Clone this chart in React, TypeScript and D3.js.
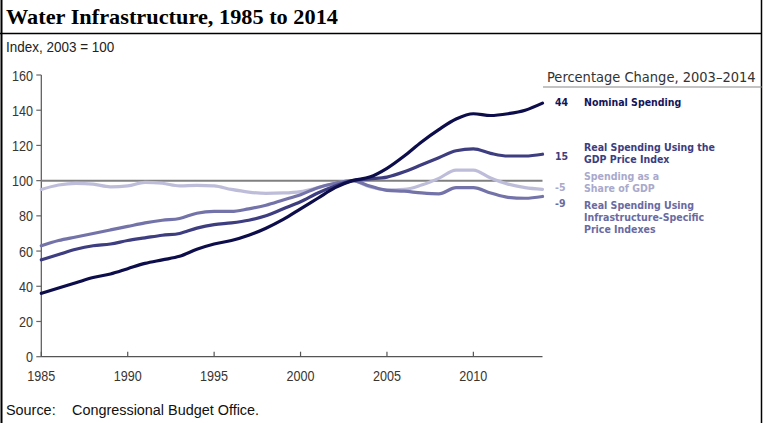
import * as d3 from 'd3'

const YEARS = d3.range(1985, 2015)

const NOMINAL = [36, 39, 42, 45, 47, 50, 53, 55, 57, 61, 64, 66, 69, 73, 78, 84, 90, 96, 100, 102, 107, 114, 122, 129, 135, 138, 137, 138, 140, 144]
const REAL_GDP = [55, 58, 61, 63, 64, 66, 67.5, 69, 70, 73, 75, 76, 77.5, 80, 84, 88, 93, 97, 100, 101, 102, 105, 109, 113, 117, 118, 115.5, 114, 114, 115]
const SHARE_GDP = [95, 97.5, 98.5, 98, 96.5, 97, 99, 98.5, 97, 97.3, 97, 95, 93.5, 92.8, 93, 93.8, 96, 98.5, 100, 96.5, 94.7, 95, 97.5, 101.3, 106, 106, 101.5, 98, 96, 95]
const REAL_INFRA = [63, 66, 68, 70, 72, 74, 76, 77.5, 78.5, 81.5, 82.5, 82.5, 84, 86, 89, 92, 96, 98.5, 100, 97, 94.5, 94, 93, 92.5, 96, 96, 93, 90.5, 90, 91]

const Y_TICKS = [0, 20, 40, 60, 80, 100, 120, 140, 160]
const X_TICKS = [1985, 1990, 1995, 2000, 2005, 2010]

// drawing order: lightest at the back
const SERIES = [
  { key: 'share', values: SHARE_GDP, color: '#bdbdda' },
  { key: 'infra', values: REAL_INFRA, color: '#7373a9' },
  { key: 'gdp', values: REAL_GDP, color: '#3d3d80' },
  { key: 'nominal', values: NOMINAL, color: '#0d0d4b' },
]

const LABELS = [
  { change: '44', changeY: 106, lines: ['Nominal Spending'], lineY: 106, color: '#14145a' },
  { change: '15', changeY: 160, lines: ['Real Spending Using the', 'GDP Price Index'], lineY: 151, color: '#3d3d80' },
  { change: '-5', changeY: 191, lines: ['Spending as a', 'Share of GDP'], lineY: 180, color: '#a9a9cc' },
  { change: '-9', changeY: 207, lines: ['Real Spending Using', 'Infrastructure-Specific', 'Price Indexes'], lineY: 209, color: '#6a6aa2' },
]

const SANS = '"Liberation Sans", Arial, sans-serif'
const TAHOMA = '"DejaVu Sans Condensed", "DejaVu Sans", sans-serif'

if (typeof document !== 'undefined') document.body.style.margin = '0'

// condensed text: no narrow face is installed, so squeeze horizontally
function Narrow({ x, y, anchor = 'start', size = 15, squeeze = 0.84, fill = '#3a3530', children }: {
  x: number, y: number, anchor?: string, size?: number, squeeze?: number, fill?: string, children: any
}) {
  return (
    <text transform={`translate(${x},${y}) scale(${squeeze},1)`} textAnchor={anchor}
      fontFamily={SANS} fontSize={size} fill={fill}>{children}</text>
  )
}

export default function App() {
  const width = 764
  const height = 423

  const x = d3.scaleLinear().domain([1985, 2014]).range([41.3, 542.5])
  const y = d3.scaleLinear().domain([0, 160]).range([356.7, 75])

  const line = d3.line<number>()
    .x((_, i) => x(YEARS[i]))
    .y(d => y(d))
    .curve(d3.curveMonotoneX)

  return (
    <svg width={width} height={height} style={{ display: 'block', background: '#fff' }}>
      {/* frame */}
      <line x1={1.5} x2={1.5} y1={0} y2={height} stroke="#000" strokeWidth={2} />
      <line x1={761.5} x2={761.5} y1={0} y2={height} stroke="#000" strokeWidth={1.5} />
      <line x1={0} x2={762} y1={33.5} y2={33.5} stroke="#000" strokeWidth={1.5} />

      <text x={6} y={24} fontFamily='"Liberation Serif", serif' fontWeight="bold" fontSize={22}
        textLength={332} lengthAdjust="spacingAndGlyphs" fill="#000">
        Water Infrastructure, 1985 to 2014
      </text>

      <Narrow x={6} y={52} size={14.5} squeeze={0.93} fill="#222">Index, 2003 = 100</Narrow>

      {/* y axis */}
      <line x1={x.range()[0]} x2={x.range()[0]} y1={y(160)} y2={y(0)} stroke="#555" strokeWidth={1.2} />
      {Y_TICKS.map(t => (
        <g key={t}>
          <line x1={x.range()[0] - 5} x2={x.range()[0]} y1={y(t)} y2={y(t)} stroke="#666" strokeWidth={1.2} />
          <Narrow x={33} y={y(t) + 5.5} anchor="end">{t}</Narrow>
        </g>
      ))}

      {/* x axis */}
      <line x1={x.range()[0]} x2={x.range()[1]} y1={y(0)} y2={y(0)} stroke="#555" strokeWidth={1.2} />
      {X_TICKS.map(t => (
        <g key={t}>
          <line x1={x(t)} x2={x(t)} y1={y(0) - 5} y2={y(0)} stroke="#555" strokeWidth={1.2} />
          <Narrow x={x(t)} y={y(0) + 24} anchor="middle">{t}</Narrow>
        </g>
      ))}

      {/* reference line at 100 */}
      <line x1={x.range()[0]} x2={x.range()[1]} y1={y(100)} y2={y(100)} stroke="#808080" strokeWidth={2} />

      {SERIES.map(s => (
        <path key={s.key} d={line(s.values) ?? ''} fill="none" stroke={s.color} strokeWidth={3.2}
          strokeLinejoin="round" strokeLinecap="round" />
      ))}

      {/* right-hand labels */}
      <text x={547} y={82} fontFamily={TAHOMA} fontSize={14.5} fill="#333">Percentage Change, 2003–2014</text>
      <line x1={543} x2={762} y1={87} y2={87} stroke="#888" strokeWidth={1.2} />

      {LABELS.map(l => (
        <g key={l.change} fontFamily={TAHOMA} fontWeight="bold" fontSize={10.5} fill={l.color}>
          <text x={555} y={l.changeY}>{l.change}</text>
          {l.lines.map((ln, i) => (
            <text key={ln} x={584} y={l.lineY + i * 12}>{ln}</text>
          ))}
        </g>
      ))}

      <Narrow x={6} y={415} size={15.5} squeeze={0.93} fill="#111">Source:</Narrow>
      <Narrow x={72} y={415} size={15.5} squeeze={0.93} fill="#111">Congressional Budget Office.</Narrow>
    </svg>
  )
}
